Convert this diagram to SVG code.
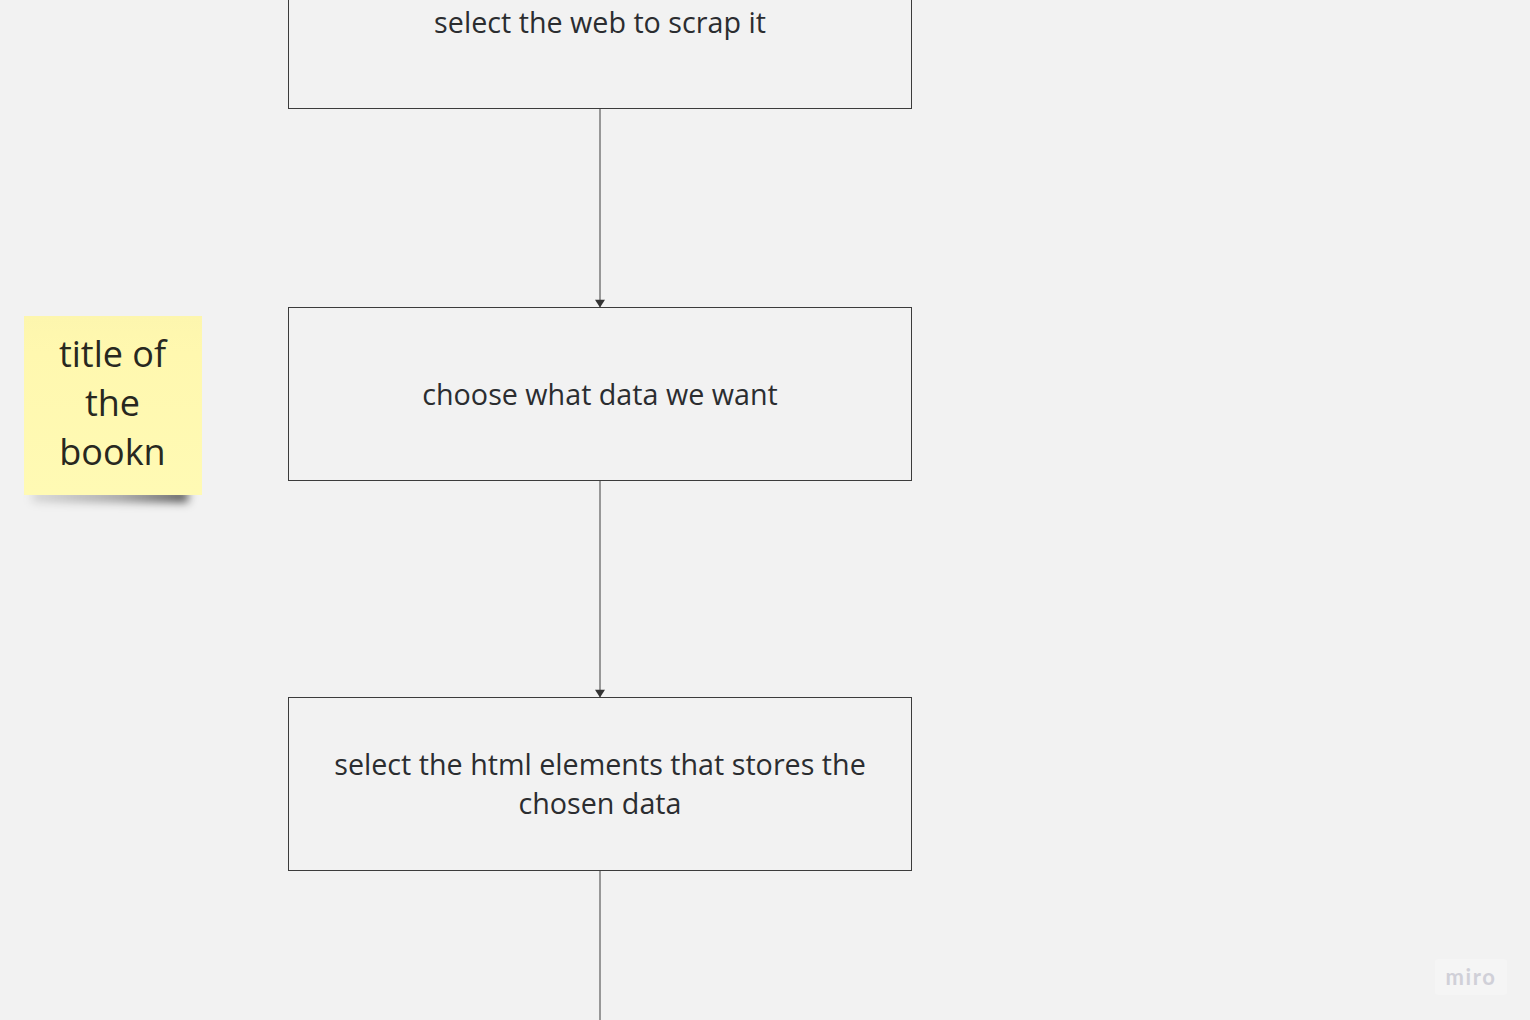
<svg xmlns="http://www.w3.org/2000/svg" width="1530" height="1020" viewBox="0 0 1530 1020">
<style>
.box{fill:#f2f2f2;stroke:#3c3c3c;stroke-width:1}
.t{font-family:"Open Sans","Noto Sans",sans-serif;font-size:28.7px;fill:#2b2d30;text-anchor:middle}
.n{font-family:"Open Sans","Noto Sans",sans-serif;font-size:36px;fill:#28281f;text-anchor:middle}
.c{fill:none;stroke:#3f3f3f;stroke-width:1}
</style>
<defs>
<marker id="arrow" markerUnits="userSpaceOnUse" markerWidth="10" markerHeight="8" refX="4.500" refY="7" orient="0" viewBox="0 0 9 7" overflow="visible"><path d="M0 0.500H9L4.500 7.500Z" fill="#333"/></marker>
<filter id="blur" x="-20%" y="-200%" width="140%" height="500%"><feGaussianBlur stdDeviation="5"/></filter>
<linearGradient id="shadow" x1="0" x2="1" y1="0" y2="0"><stop offset="0" stop-color="#000" stop-opacity=".12"/><stop offset=".55" stop-color="#000" stop-opacity=".35"/><stop offset="1" stop-color="#000" stop-opacity=".7"/></linearGradient>
<linearGradient id="paper" x1="0" x2="0" y1="0" y2="1"><stop offset="0" stop-color="#fdf6ae"/><stop offset=".2" stop-color="#fff8af"/><stop offset="1" stop-color="#fffab4"/></linearGradient>
</defs>
<rect width="1530" height="1020" fill="#f2f2f2"/>
<g id="connectors">
<path class="c" d="M600 108.500V307" marker-end="url(#arrow)"/>
<path class="c" d="M600 480.500V697" marker-end="url(#arrow)"/>
<path class="c" d="M600 870V1020"/>
</g>
<g id="node-select-web">
<rect class="box" x="288.500" y="-65.500" width="623" height="174"/>
<text class="t" x="600" y="32.800">select the web to scrap it</text>
</g>
<g id="node-choose-data">
<rect class="box" x="288.500" y="307.500" width="623" height="173"/>
<text class="t" x="600" y="404.800">choose what data we want</text>
</g>
<g id="node-select-html">
<rect class="box" x="288.500" y="697.500" width="623" height="173"/>
<text class="t" x="600" y="774.800">select the html elements that stores the</text>
<text class="t" x="600" y="813.800">chosen data</text>
</g>
<g id="node-sticky">
<rect x="32" y="491" width="156" height="11" fill="url(#shadow)" filter="url(#blur)"/>
<rect x="24" y="316" width="178" height="179" fill="url(#paper)"/>
<text class="n" x="112.500" y="367">title of</text>
<text class="n" x="112.500" y="416">the</text>
<text class="n" x="112.500" y="465">bookn</text>
</g>
<g id="watermark">
<rect x="1435" y="959" width="72" height="36" rx="3" fill="#f5f5f5"/>
<text x="1471" y="985" font-family="Lato,'Open Sans',sans-serif" font-size="22" font-weight="700" letter-spacing="1.600" fill="#d0d0d8" text-anchor="middle">miro</text>
</g>
</svg>
